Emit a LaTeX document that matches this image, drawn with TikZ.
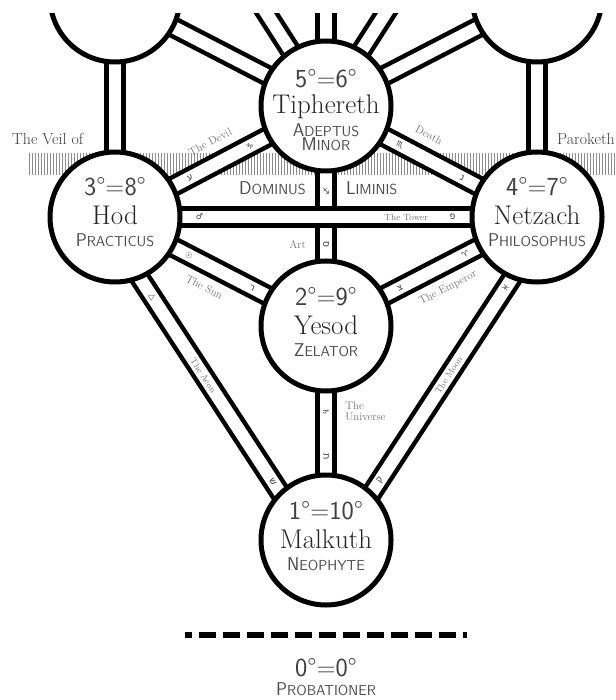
\documentclass[tikz,border=0pt]{standalone}
\usepackage{fontspec}
\usetikzlibrary{positioning}
\newfontfamily\astrofont{DejaVu Sans}
\newfontfamily\hebfont[Script=Hebrew]{Liberation Sans}
\TeXXeTstate=1
\newcommand{\fsc}[2]{{\fontsize{18.5}{18.5}\selectfont #1}{\fontsize{14.5}{14.5}\selectfont #2}}
\newcommand{\heb}[1]{{\hebfont\beginR #1\endR}}
\pgfdeclarelayer{veil}
\pgfdeclarelayer{paths}
\pgfsetlayers{veil,paths,main}

\begin{document}
\begin{tikzpicture}[x=1pt, y=-1pt,
  seph/.style={circle, draw, fill=white, line width=5pt, minimum size=130pt, inner sep=0pt},
  grade/.style={anchor=base, inner sep=0pt, text=black!75, font=\sffamily\fontsize{26}{26}\selectfont},
  sname/.style={anchor=base, inner sep=0pt, text=black!85,
                font=\fontsize{27}{27}\selectfont\addfontfeatures{LetterSpace=6}},
  grtitle/.style={anchor=base, inner sep=0pt, text=black!70, font=\sffamily\addfontfeatures{LetterSpace=12}},
  veiltxt/.style={anchor=base west, inner sep=0pt, text=black!75, font=\fontsize{16}{16}\selectfont},
  pth/.style={double=white, double distance=12.5pt, line width=4.5pt},
  hatch/.style={draw=black!45, line width=1pt},
  lbl/.style={inner sep=0pt, text=black!55, font=\fontsize{11}{11}\selectfont},
  inlbl/.style={inner sep=0pt, sloped, text=black!55, font=\fontsize{9}{9}\selectfont},
  sym/.style={inner sep=0pt, sloped, text=black!80, font=\astrofont\fontsize{8}{8}\selectfont},
  hebl/.style={inner sep=0pt, sloped, text=black!80, font=\hebfont\fontsize{9}{9}\selectfont},
]
\useasboundingbox (0,0) rectangle (615,700);

% sephiroth
\node[seph] (geb)  at (115,-3)  {};
\node[seph] (ches) at (537,-3)  {};
\node[seph] (tiph) at (326,106) {};
\node[seph] (hod)  at (115,217) {};
\node[seph] (netz) at (537,217) {};
\node[seph] (yes)  at (326,326) {};
\node[seph] (mal)  at (326,540) {};
% supernals, above the top edge
\coordinate (keth) at (326,-333);
\coordinate (bina) at (115,-223);
\coordinate (chok) at (537,-223);

% grades
\node[grade]   (tiph-g)  at ([yshift=18pt]tiph.center)  {5°=6°};
\node[sname]   (tiph-n)  at ([yshift=-8pt]tiph.center)  {Tiphereth};
\node[grtitle] (tiph-t1) at ([yshift=-31pt]tiph.center) {\fsc{A}{DEPTUS}};
\node[grtitle] (tiph-t2) at ([yshift=-45pt]tiph.center) {\fsc{M}{INOR}};
\foreach \s/\g/\n/\t in {hod/3°=8°/Hod/{\fsc{P}{RACTICUS}},
                         netz/4°=7°/Netzach/{\fsc{P}{HILOSOPHUS}},
                         yes/2°=9°/Yesod/{\fsc{Z}{ELATOR}},
                         mal/1°=10°/Malkuth/{\fsc{N}{EOPHYTE}}} {
  \node[grade]   (\s-g) at ([yshift=21pt]\s.center)  {\g};
  \node[sname]   (\s-n) at ([yshift=-8pt]\s.center)  {\n};
  \node[grtitle] (\s-t) at ([yshift=-30pt]\s.center) {\t};
}
\node[grade]   (prob-g) at (326,676) {0°=0°};
\node[grtitle] (prob-t) at (326,695) {\fsc{P}{ROBATIONER}};

\node[grtitle, anchor=base east] (dom) at (306,195) {\fsc{D}{OMINUS}};
\node[grtitle, anchor=base west] (lim) at (346,195) {\fsc{L}{IMINIS}};
\node[veiltxt] (veil-l) at (12,145)  {The Veil of};
\node[veiltxt] (veil-r) at (557,145) {Paroketh};

\draw[line width=6pt, dash pattern=on 17pt off 7pt, dash phase=10pt] (185,635) -- (467,635);

\begin{pgfonlayer}{paths}
  \foreach \a/\b in {tiph/keth, tiph/bina, tiph/chok, tiph/geb, tiph/ches, geb/hod, ches/netz}
    \draw[pth] (\a.center) -- (\b.center);
  \draw[pth] (hod.center) -- node[hebl, pos=.355] {\heb{ע}} node[sym, pos=.64] {♑}
    node[lbl, sloped, pos=.5, above=16pt] {The Devil} (tiph.center);
  \draw[pth] (tiph.center) -- node[sym, pos=.35] {♏} node[hebl, pos=.645] {\heb{נ}}
    node[lbl, sloped, pos=.44, above=16pt] {Death} (netz.center);
  \draw[pth] (tiph.center) -- node[sym, pos=.386] {♐} node[hebl, pos=.63] {\heb{ס}}
    node[lbl, pos=.63, left=18pt] {Art} (yes.center);
  \draw[pth] (hod.center) -- node[sym, pos=.2] {♂} node[inlbl, pos=.69] {The Tower}
    node[hebl, pos=.8] {\heb{פ}} (netz.center);
  \draw[pth] (hod.center) -- node[sym, pos=.35] {☉} node[hebl, pos=.65] {\heb{ר}}
    node[lbl, sloped, pos=.47, below=15pt] {The Sun} (yes.center);
  \draw[pth] (yes.center) -- node[hebl, pos=.35] {\heb{צ}} node[sym, pos=.66] {♈}
    node[lbl, sloped, pos=.53, below=15pt] {The Emperor} (netz.center);
  \draw[pth] ([xshift=-15pt]hod.center) -- node[sym, pos=.248] {△}
    node[inlbl, pos=.49] {The Aeon} node[hebl, pos=.82] {\heb{ש}} ([xshift=-15pt]mal.center);
  \draw[pth] ([xshift=15pt]netz.center) -- node[sym, pos=.22] {♓}
    node[inlbl, pos=.49] {The Moon} node[hebl, pos=.814] {\heb{ק}} ([xshift=15pt]mal.center);
  \draw[pth] (yes.center) -- node[sym, pos=.4] {♄} node[hebl, pos=.61] {\heb{ת}}
    node[lbl, pos=.4, right=17pt, align=left] {The\\Universe} (mal.center);
\end{pgfonlayer}

\begin{pgfonlayer}{veil}
  \fill[white] (0,0) rectangle (615,700);
  \foreach \x in {29,32,...,614}
    \draw[hatch] (\x,153) -- (\x,175);
\end{pgfonlayer}

% top margin
\fill[white] (0,0) rectangle (615,13);
\end{tikzpicture}
\end{document}
